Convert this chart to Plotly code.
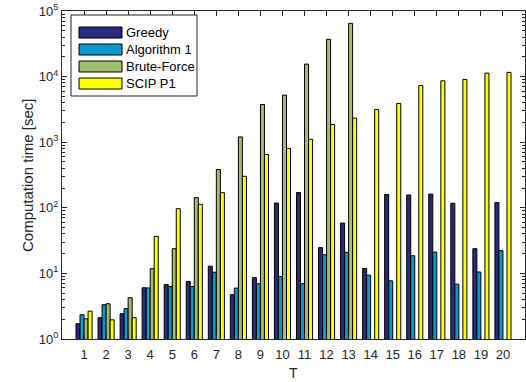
import plotly.graph_objects as go

# Problem sizes
T = list(range(1, 21))

# Computation time [sec] per method
greedy = [1.71, 2.11, 2.43, 6.04, 6.79, 7.55, 12.9, 4.73, 8.6, 118, 171, 24.7, 58.6,
          11.9, 159, 157, 162, 117, 23.8, 120]
algorithm1 = [2.34, 3.33, 2.92, 6.0, 6.3, 6.3, 10.4, 5.97, 6.96, 9.0, 6.96, 19.3, 20.9,
              9.4, 7.7, 18.6, 21.1, 6.87, 10.5, 22.2]
brute_force = [2.03, 3.45, 4.26, 11.8, 23.8, 143, 383, 1204, 3760, 5220, 15500, 37000, 64900,
               None, None, None, None, None, None, None]
scip_p1 = [2.66, 1.96, 2.11, 36.7, 97, 113, 170, 302, 649, 801, 1111, 1863, 2323,
           3160, 3900, 7330, 8630, 9060, 11300, 11600]

series_names = ["Greedy", "Algorithm 1", "Brute-Force", "SCIP P1"]
series_values = [greedy, algorithm1, brute_force, scip_p1]
series_colors = ["#29297d", "#0b98cd", "#a2bd6e", "#ffff00"]

# y-axis decades and labels
y_ticks = [1, 10, 100, 1000, 10000, 100000]
y_ticktext = ["10<sup>%d</sup>" % i for i in range(6)]
y_minor = [m * 10 ** d for d in range(5) for m in range(2, 10)]

FONT = "Liberation Sans, Arial, sans-serif"
INK = "#262626"

fig = go.Figure()
for name, vals, col in zip(series_names, series_values, series_colors):
    fig.add_trace(go.Bar(
        x=T, y=vals, name=name,
        marker=dict(color=col, line=dict(color="black", width=1)),
        showlegend=False,
    ))

# plot-area geometry in pixels (used to place the boxed legend and axis titles)
W, H = 526, 382
L, R, TOP, B = 62, 1, 11, 43
pw, ph = W - L - R, H - TOP - B


def px_x(px):
    return (px - L) / pw


def px_y(py):
    return (H - B - py) / ph


shapes = [dict(type="rect", xref="paper", yref="paper",
               x0=px_x(71), x1=px_x(197), y0=px_y(96), y1=px_y(15),
               line=dict(color=INK, width=1), fillcolor="white")]
annotations = []
for i, (name, col) in enumerate(zip(series_names, series_colors)):
    cy = 32.5 + 17 * i
    shapes.append(dict(type="rect", xref="paper", yref="paper",
                       x0=px_x(79), x1=px_x(122), y0=px_y(cy + 5.5), y1=px_y(cy - 5.5),
                       line=dict(color="black", width=1), fillcolor=col))
    annotations.append(dict(xref="paper", yref="paper", x=px_x(124), y=px_y(cy),
                            text=name, showarrow=False, xanchor="left", yanchor="middle",
                            font=dict(family=FONT, size=13, color="black")))

# axis titles
annotations.append(dict(xref="paper", yref="paper", x=px_x(27), y=px_y(176),
                        text="Computation time [sec]", textangle=-90, showarrow=False,
                        xanchor="center", yanchor="middle",
                        font=dict(family=FONT, size=15, color=INK)))
annotations.append(dict(xref="paper", yref="paper", x=px_x(293.5), y=px_y(372.5),
                        text="T", showarrow=False, xanchor="center", yanchor="middle",
                        font=dict(family=FONT, size=14, color=INK)))

fig.update_layout(
    width=W, height=H,
    margin=dict(l=L, r=R, t=TOP, b=B),
    paper_bgcolor="white", plot_bgcolor="white",
    barmode="group", bargap=0.27, bargroupgap=0.0,
    font=dict(family=FONT, size=13, color=INK),
    shapes=shapes, annotations=annotations,
    xaxis=dict(
        range=[0, 21], tickvals=T, ticks="inside", ticklen=5, tickcolor=INK,
        showline=True, linecolor=INK, linewidth=1, mirror="ticks",
        showgrid=False, zeroline=False, ticklabelstandoff=3,
        tickfont=dict(size=13),
    ),
    yaxis=dict(
        type="log", range=[0, 5], tickvals=y_ticks, ticktext=y_ticktext,
        ticks="inside", ticklen=5, tickcolor=INK,
        minor=dict(tickvals=y_minor, ticks="inside", ticklen=3, tickcolor=INK, showgrid=False),
        showline=True, linecolor=INK, linewidth=1, mirror="ticks",
        showgrid=False, zeroline=False,
        tickfont=dict(size=13),
    ),
)

fig.write_html("out.html")
